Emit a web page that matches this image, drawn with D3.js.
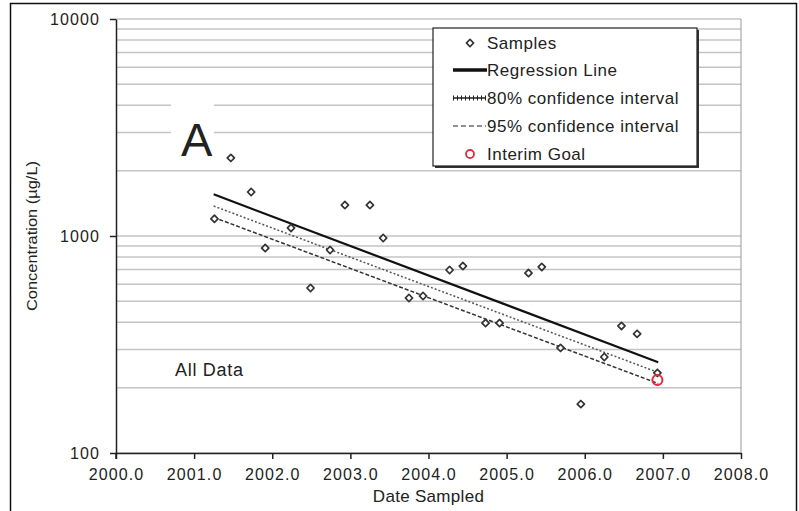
<!DOCTYPE html>
<html><head><meta charset="utf-8">
<script src="https://cdn.jsdelivr.net/npm/d3@7"></script>
<style>body{margin:0;background:#fff}svg{display:block;font-family:"Liberation Sans",Arial,sans-serif}</style>
</head><body>
<svg id="c" width="799" height="511"></svg>
<script>
// ---- data ----
const sampleYears = [2001.26,2001.47,2001.73,2001.91,2002.24,2002.49,2002.74,2002.93,2003.25,2003.42,2003.75,2003.93,2004.27,2004.44,2004.73,2004.91,2005.28,2005.45,2005.69,2005.95,2006.25,2006.47,2006.67,2006.93];
const sampleConc  = [1200,2290,1595,880,1089,576,862,1389,1389,979,518,529,697,727,397,397,675,720,305,168,277,385,354,234];
const regressionLine = [[2001.25,1556],[2006.94,262]];
const ci80Line = [[2001.25,1374],[2006.94,235]];
const ci95Line = [[2001.25,1219],[2006.94,209]];
const interimGoal = [[2006.93,217]];
const xTicks = [2000,2001,2002,2003,2004,2005,2006,2007,2008];
const yTicks = [100,1000,10000];
const legendLabels = ["Samples","Regression Line","80% confidence interval","95% confidence interval","Interim Goal"];

const svg = d3.select("#c");
const ink = "#222";
const L = 116, R = 741, T = 19, B = 453;
const x = d3.scaleLinear().domain([2000,2008]).range([L,R]);
const y = d3.scaleLog().domain([100,10000]).range([B,T]);

// outer frame
svg.append("rect").attr("x",10.5).attr("y",3.5).attr("width",786).attr("height",520)
  .attr("fill","none").attr("stroke","#111").attr("stroke-width",1.5);

// gridlines
const grid = [];
for (let d=100; d<10000; d*=10) for (let k=1;k<10;k++) grid.push(d*k);
grid.push(10000);
svg.append("g").selectAll("line").data(grid).join("line")
  .attr("x1",L).attr("x2",R).attr("y1",d=>y(d)).attr("y2",d=>y(d))
  .attr("stroke","#c4c4c4").attr("stroke-width",1.5);
// right border
svg.append("line").attr("x1",R).attr("x2",R).attr("y1",T).attr("y2",B)
  .attr("stroke","#999").attr("stroke-width",1);

// "A" label with white background
svg.append("rect").attr("x",171).attr("y",92).attr("width",43).attr("height",70).attr("fill","#fff");
svg.append("text").attr("x",181).attr("y",156).attr("font-size",47).attr("fill",ink).text("A");
svg.append("text").attr("x",175).attr("y",376).attr("font-size",18).attr("fill",ink)
  .style("letter-spacing","0.7px").text("All Data");

// axes
const xAxis = d3.axisBottom(x).tickValues(xTicks).tickFormat(d3.format(".1f")).tickSize(6).tickSizeOuter(0);
const gx = svg.append("g").attr("transform",`translate(0,${B})`).call(xAxis);
gx.select(".domain").attr("stroke",ink).attr("stroke-width",1.5);
gx.selectAll(".tick line").attr("stroke",ink).attr("stroke-width",1.5);
gx.selectAll("text").attr("font-size",16).attr("fill",ink).attr("y",12).attr("dy","0.95em")
  .attr("font-family","'Liberation Sans',Arial,sans-serif").style("letter-spacing","1.1px");

const yAxis = d3.axisLeft(y).tickValues(yTicks).tickFormat(d3.format("d")).tickSize(6).tickSizeOuter(0);
const gy = svg.append("g").attr("transform",`translate(${L},0)`).call(yAxis);
gy.select(".domain").attr("stroke",ink).attr("stroke-width",1.5);
gy.selectAll(".tick line").attr("stroke",ink).attr("stroke-width",1.5);
gy.selectAll("text").attr("font-size",16).attr("fill",ink).attr("x",-16)
  .attr("font-family","'Liberation Sans',Arial,sans-serif").style("letter-spacing","1.1px");
// extend y axis below x-axis slightly (tick at origin)
svg.append("line").attr("x1",L).attr("x2",L).attr("y1",B).attr("y2",B+6).attr("stroke",ink).attr("stroke-width",1.5);

// axis titles
svg.append("text").attr("x",(L+R)/2).attr("y",502).attr("text-anchor","middle")
  .attr("font-size",17).attr("fill",ink).style("letter-spacing","0.3px").text("Date Sampled");
svg.append("text").attr("transform","translate(37,236) rotate(-90)").attr("text-anchor","middle")
  .attr("font-size",14).attr("fill",ink).attr("textLength",150).attr("lengthAdjust","spacingAndGlyphs")
  .text("Concentration (µg/L)");

// lines
const line = d3.line().x(d=>x(d[0])).y(d=>y(d[1]));
svg.append("path").attr("d",line(ci95Line)).attr("fill","none").attr("stroke","#333")
  .attr("stroke-width",1.5).attr("stroke-dasharray","4,2");
svg.append("path").attr("d",line(ci80Line)).attr("fill","none").attr("stroke","#555")
  .attr("stroke-width",1.5).attr("stroke-dasharray","2,2");
svg.append("path").attr("d",line(regressionLine)).attr("fill","none").attr("stroke","#111")
  .attr("stroke-width",2.2);

// samples
const diamond = d3.symbol().type(d3.symbolSquare).size(26);
svg.append("g").selectAll("path").data(sampleYears.map((v,i)=>[v,sampleConc[i]])).join("path")
  .attr("d",diamond).attr("transform",d=>`translate(${x(d[0])},${y(d[1])}) rotate(45)`)
  .attr("fill","#fff").attr("stroke","#333").attr("stroke-width",1.7).attr("stroke-linejoin","round");

// interim goal
svg.append("g").selectAll("circle").data(interimGoal).join("circle")
  .attr("cx",d=>x(d[0])).attr("cy",d=>y(d[1])).attr("r",5)
  .attr("fill","none").attr("stroke","#e8283c").attr("stroke-width",2);

// legend
const lg = svg.append("g");
lg.append("rect").attr("x",435).attr("y",30).attr("width",264).attr("height",138).attr("fill","#333");
lg.append("rect").attr("x",433).attr("y",28).attr("width",264).attr("height",138)
  .attr("fill","#fff").attr("stroke","#222").attr("stroke-width",1.2);
const rowY = [43,70,98,126,154];
const tx = 487;
legendLabels.forEach((t,i)=>{
  lg.append("text").attr("x",tx).attr("y",rowY[i]).attr("dy","0.35em").attr("font-size",17)
    .attr("fill",ink).style("letter-spacing","0.5px").text(t);
});
lg.append("path").attr("d",diamond).attr("transform",`translate(470,${rowY[0]}) rotate(45)`)
  .attr("fill","#fff").attr("stroke","#333").attr("stroke-width",1.7).attr("stroke-linejoin","round");
lg.append("line").attr("x1",453).attr("x2",487).attr("y1",rowY[1]).attr("y2",rowY[1])
  .attr("stroke","#111").attr("stroke-width",3.5);
lg.append("line").attr("x1",453).attr("x2",486).attr("y1",rowY[2]).attr("y2",rowY[2])
  .attr("stroke","#222").attr("stroke-width",1.5);
lg.append("line").attr("x1",453).attr("x2",486).attr("y1",rowY[2]).attr("y2",rowY[2])
  .attr("stroke","#222").attr("stroke-width",5).attr("stroke-dasharray","1,3");
lg.append("line").attr("x1",453).attr("x2",486).attr("y1",rowY[3]).attr("y2",rowY[3])
  .attr("stroke","#222").attr("stroke-width",1.2).attr("stroke-dasharray","5,3");
lg.append("circle").attr("cx",470).attr("cy",rowY[4]).attr("r",4)
  .attr("fill","none").attr("stroke","#e8283c").attr("stroke-width",1.8);
</script>
</body></html>
